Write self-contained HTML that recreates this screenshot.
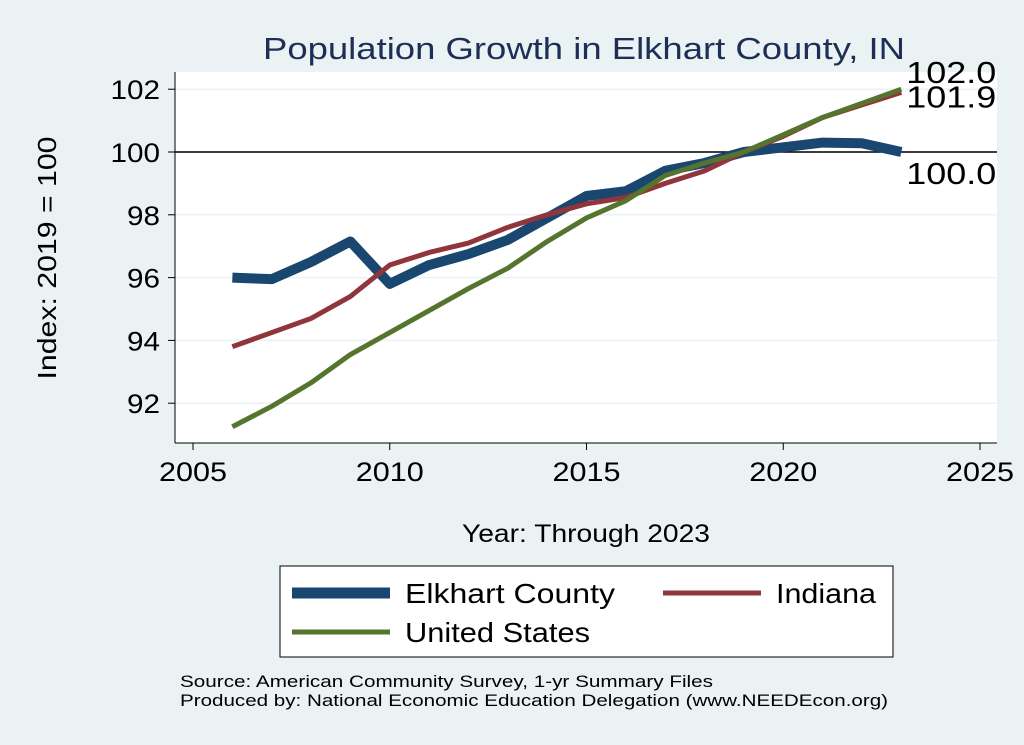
<!DOCTYPE html>
<html><head><meta charset="utf-8"><style>
body{margin:0;background:#eaf2f3;font-family:"Liberation Sans",Arial,sans-serif}
svg{display:block}
</style></head><body>
<svg id="chart" width="1024" height="745" xmlns="http://www.w3.org/2000/svg">
<rect width="1024" height="745" fill="#eaf2f3"/>
<rect x="175" y="72" width="822" height="371" fill="#fff"/>
<text x="263" y="59" font-size="31" fill="#1e2f57" textLength="642" lengthAdjust="spacingAndGlyphs">Population Growth in Elkhart County, IN</text>
<g id="grid"></g>
<g id="axes"></g>
<g id="series"></g>
<text transform="translate(56,258) rotate(-90)" font-size="26" text-anchor="middle" textLength="243" lengthAdjust="spacingAndGlyphs">Index: 2019 = 100</text>
<text x="462" y="542" font-size="25" textLength="248" lengthAdjust="spacingAndGlyphs">Year: Through 2023</text>
<g>
<rect x="280" y="566" width="613" height="91" fill="#fff" stroke="#000" stroke-width="1"/>
<line x1="292" y1="593" x2="390" y2="593" stroke="#1a476f" stroke-width="11"/>
<text x="405" y="603" font-size="28" textLength="210" lengthAdjust="spacingAndGlyphs">Elkhart  County</text>
<line x1="663" y1="593" x2="761" y2="593" stroke="#90353b" stroke-width="5"/>
<text x="776" y="603" font-size="28" textLength="100" lengthAdjust="spacingAndGlyphs">Indiana</text>
<line x1="292" y1="632" x2="390" y2="632" stroke="#55752f" stroke-width="5"/>
<text x="405" y="642" font-size="28" textLength="185" lengthAdjust="spacingAndGlyphs">United States</text>
</g>
<text x="180" y="687" font-size="17" textLength="533" lengthAdjust="spacingAndGlyphs">Source: American Community Survey, 1-yr Summary Files</text>
<text x="180" y="706" font-size="17" textLength="708" lengthAdjust="spacingAndGlyphs">Produced by: National Economic Education Delegation (www.NEEDEcon.org)</text>
</svg>
<script>
const years=[2006,2007,2008,2009,2010,2011,2012,2013,2014,2015,2016,2017,2018,2019,2020,2021,2022,2023];
const elkhart=[96.0,95.95,96.5,97.15,95.8,96.4,96.75,97.2,97.9,98.6,98.75,99.4,99.65,100,100.15,100.3,100.28,100.0];
const indiana=[93.8,94.25,94.7,95.4,96.4,96.8,97.1,97.6,98.0,98.35,98.55,99.0,99.4,100,100.5,101.1,101.5,101.9];
const us=[91.25,91.9,92.65,93.55,94.25,94.95,95.65,96.3,97.15,97.9,98.45,99.25,99.65,100,100.55,101.1,101.55,102.0];
const xTicks=[2005,2010,2015,2020,2025];
const yTicks=[92,94,96,98,100,102];
const NS="http://www.w3.org/2000/svg";
const X=v=>193+(v-2005)*(980-193)/20;
const Y=v=>152-(v-100)*31.4;
function mk(tag,attrs,parent,txt){const e=document.createElementNS(NS,tag);for(const k in attrs)e.setAttribute(k,attrs[k]);if(txt!==undefined)e.textContent=txt;document.getElementById(parent).appendChild(e);return e;}
yTicks.forEach(t=>{
 const g=mk('line',{x1:175,x2:997,y1:Y(t),y2:Y(t),stroke:'#eaf2f3','stroke-width':1.5},'grid');
 
 
 const tk=mk('line',{x1:168,x2:175,y1:Y(t),y2:Y(t),stroke:'#000'},'axes');
 
 
 const l=mk('text',{x:160,y:Y(t)+10,'font-size':27,'text-anchor':'end',textLength:(String(t).length*16.5),lengthAdjust:'spacingAndGlyphs'},'axes',t);
 
 
});
const ref=mk('line',{x1:175,x2:997,y1:Y(100),y2:Y(100),stroke:'#000','stroke-width':1.5},'grid');


const ya=mk('line',{x1:175,x2:175,y1:72,y2:443,stroke:'#000'},'axes');


const xa=mk('line',{x1:175,x2:997,y1:443,y2:443,stroke:'#000'},'axes');


xTicks.forEach(t=>{
 const tk=mk('line',{x1:X(t),x2:X(t),y1:443,y2:450,stroke:'#000'},'axes');
 
 
 const l=mk('text',{x:X(t),y:481,'font-size':27,'text-anchor':'middle',textLength:68,lengthAdjust:'spacingAndGlyphs'},'axes',t);
 
 
});
function line(data,color,w,name){
 const p=mk('polyline',{points:years.map((y,i)=>X(y)+','+Y(data[i])).join(' '),fill:'none',stroke:color,'stroke-width':w,'stroke-linejoin':'round'},'series');
 
 
}
line(elkhart,'#1a476f',10,'line-elkhart');
line(indiana,'#90353b',5,'line-indiana');
line(us,'#55752f',5,'line-us');
const n=years.length-1;
const lx=X(years[n])+5;
[[us[n],-6,'label-us-end'],[indiana[n],15,'label-indiana-end'],[elkhart[n],32,'label-elkhart-end']].forEach(([v,dy,nm])=>{
 const t=mk('text',{x:lx,y:Y(v)+dy,'font-size':31,textLength:90,lengthAdjust:'spacingAndGlyphs'},'series',v.toFixed(1));
 
 
});
</script>
</body></html>
